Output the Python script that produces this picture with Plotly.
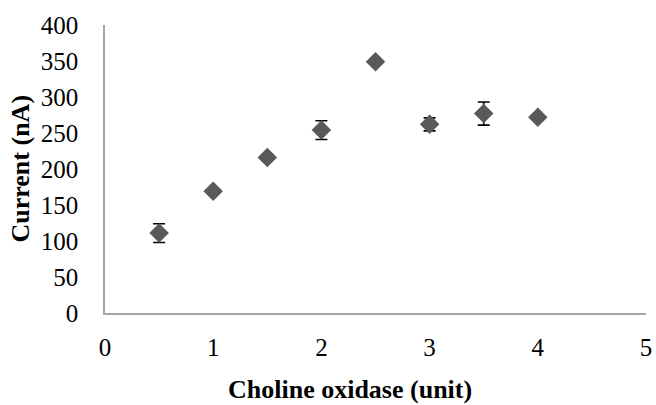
import plotly.graph_objects as go

# Choline oxidase loading vs. measured current
enzyme_units = [0.5, 1.0, 1.5, 2.0, 2.5, 3.0, 3.5, 4.0]
current_na = [111, 169, 216, 254, 349, 262, 277, 272]
current_err = [13, 3, 4, 13, 2, 9, 16, 3]

x_title = "Choline oxidase (unit)"
y_title = "Current (nA)"

fig = go.Figure(
    go.Scatter(
        x=enzyme_units,
        y=current_na,
        mode="markers",
        marker=dict(symbol="diamond", size=15, color="#595959"),
        error_y=dict(type="data", array=current_err, visible=True,
                     color="black", thickness=1.6, width=6),
        showlegend=False,
    )
)

font_main = "Liberation Serif, Times New Roman, serif"

fig.update_layout(
    width=656,
    height=405,
    margin=dict(l=105, r=4, t=25, b=92),
    paper_bgcolor="white",
    plot_bgcolor="white",
    font=dict(family=font_main, size=25, color="black"),
    annotations=[
        dict(text="<b>%s</b>" % x_title, xref="paper", yref="paper",
             x=0.453, y=-0.266, xanchor="center", yanchor="middle",
             showarrow=False, font=dict(size=26)),
        dict(text="<b>%s</b>" % y_title, xref="paper", yref="paper",
             x=-0.158, y=0.5, xanchor="center", yanchor="middle",
             textangle=-90, showarrow=False, font=dict(size=26)),
    ],
)

fig.update_xaxes(
    range=[0, 5],
    tickvals=[0, 1, 2, 3, 4, 5],
    showgrid=False,
    zeroline=False,
    showline=True,
    linecolor="#a6a6a6",
    linewidth=1.5,
    ticks="",
    ticklabelstandoff=11,
    ticklabeloverflow="allow",
)

fig.update_yaxes(
    range=[0, 400],
    tickvals=[0, 50, 100, 150, 200, 250, 300, 350, 400],
    showgrid=False,
    zeroline=False,
    showline=True,
    linecolor="#a6a6a6",
    linewidth=1.5,
    ticks="",
    ticklabelstandoff=20,
    ticklabeloverflow="allow",
)

fig.write_html("out.html")
